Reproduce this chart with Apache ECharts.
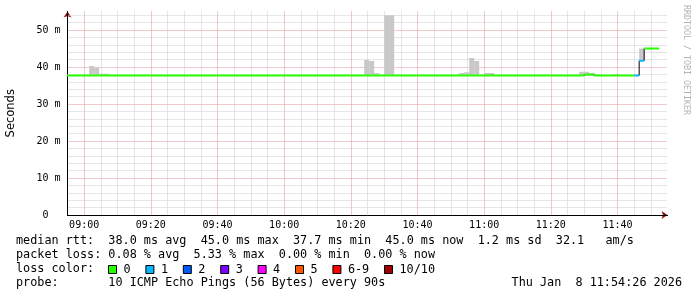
<!DOCTYPE html>
<html><head><meta charset="utf-8">
<script src="https://cdn.jsdelivr.net/npm/echarts@6/dist/echarts.min.js"></script>
<style>html,body{margin:0;padding:0;background:#fff}#c{width:697px;height:297px}</style>
</head><body><div id="c"></div>
<script>
// x values are minutes relative to 09:00 (one RRD step = 90 s = 1.5 min)
const xTickLabels = ['09:00','09:20','09:40','10:00','10:20','10:40','11:00','11:20','11:40'];
const yTickLabels = ['0  ','10 m','20 m','30 m','40 m','50 m'];
const lossLabels = ['0','1','2','3','4','5','6-9','10/10'];

// median rtt (ms) per run of steps, with packet-loss class index
const medStart = [-6, 150, 153, 165, 166.5, 168];
const medEnd   = [150, 153, 165, 166.5, 168, 172.5];
const medValue = [37.7, 38.0, 37.7, 37.7, 41.7, 45.0];
const medLoss  = [0, 0, 0, 1, 1, 0];

// smoke (ping spread min..max, ms)
const smokeStart = [1.5, 3.0, 4.5, 84, 85.5, 87, 90, 112.5, 114, 115.5, 117, 120, 148.5, 151.5, 153, 159, 166.5];
const smokeEnd   = [3.0, 4.5, 7.5, 85.5, 87, 88.5, 93, 114, 115.5, 117, 118.5, 123, 151.5, 153, 154.5, 160.5, 168];
const smokeLow   = [37.6, 37.6, 37.6, 37.6, 37.6, 37.6, 37.6, 37.6, 37.6, 37.6, 37.6, 37.6, 37.6, 37.6, 37.6, 37.6, 41.7];
const smokeHigh  = [40.3, 39.8, 38.2, 41.9, 41.6, 38.4, 54.0, 38.4, 38.6, 42.4, 41.6, 38.4, 38.7, 38.4, 38.1, 38.1, 45.0];

const statLines = [
  'median rtt:  38.0 ms avg  45.0 ms max  37.7 ms min  45.0 ms now  1.2 ms sd  32.1   am/s',
  'packet loss: 0.08 % avg  5.33 % max  0.00 % min  0.00 % now',
  'loss color:',
  'probe:       10 ICMP Echo Pings (56 Bytes) every 90s'
];
const dateText = 'Thu Jan  8 11:54:26 2026';
const sideText = 'RRDTOOL / TOBI OETIKER';

const lossColors = ['#26ff00','#00b8ff','#0059ff','#7e00ff','#ff00ff','#ff5500','#ff0000','#a00000'];
const MINOR = '#cccccc', MAJOR = '#e29696';
const MONO = '"DejaVu Sans Mono", monospace';

const smokeData = smokeStart.map((s, i) => [s, smokeEnd[i], smokeLow[i], smokeHigh[i]]);
const medData = medStart.map((s, i) => [s, medEnd[i], medValue[i], medLoss[i], i > 0 ? medValue[i - 1] : medValue[i]]);

const lossSeries = lossLabels.map((name, li) => ({
  name, type: 'custom', z: 4, clip: true,
  itemStyle: { color: lossColors[li] },
  encode: { x: [0, 1], y: 2 },
  data: medData.filter(d => d[3] === li),
  renderItem: (params, api) => {
    const v = api.value(2);
    const p1 = api.coord([api.value(0), v]), p2 = api.coord([api.value(1), v]);
    return { type: 'line', shape: { x1: p1[0], y1: p1[1], x2: p2[0], y2: p2[1] },
      style: { stroke: lossColors[li], lineWidth: 2 } };
  }
}));

const chart = echarts.init(document.getElementById('c'));
chart.setOption({
  animation: false,
  backgroundColor: '#fff',
  grid: { left: 67.5, top: 11.5, width: 600, height: 203.5, outerBoundsMode: 'none', containLabel: false },
  xAxis: [{
    type: 'value', min: -5, max: 175, interval: 5, z: 1,
    axisLine: { show: true, onZero: false, lineStyle: { color: '#000', width: 1 } },
    axisTick: { show: false },
    axisLabel: { interval: 0, margin: 5, fontFamily: MONO, fontSize: 10, color: '#000',
      formatter: v => (v >= 0 && v % 20 === 0 && xTickLabels[v / 20]) ? xTickLabels[v / 20] : '' },
    splitLine: { show: true, showMaxLine: false, lineStyle: { color: [MINOR, MAJOR, MINOR, MINOR], type: [1, 1], width: 1 } }
  }, {
    type: 'value', min: -5, max: 175, position: 'bottom', z: 0,
    axisLine: { show: true, onZero: false, symbol: ['none', 'arrow'], symbolSize: [6, 6], lineStyle: { color: '#8b1010', width: 1 } },
    axisTick: { show: false }, axisLabel: { show: false }, splitLine: { show: false }
  }],
  yAxis: [{
    type: 'value', min: 0, max: 55, interval: 2, z: 1,
    name: 'Seconds', nameLocation: 'middle', nameGap: 50,
    nameTextStyle: { fontFamily: '"DejaVu Sans"', fontSize: 11.5, color: '#000' },
    axisLine: { show: true, onZero: false, lineStyle: { color: '#000', width: 1 } },
    axisTick: { show: false },
    axisLabel: { interval: 0, margin: 7, fontFamily: MONO, fontSize: 10, color: '#000',
      formatter: v => (v % 10 === 0 && yTickLabels[v / 10]) ? yTickLabels[v / 10] : '' },
    splitLine: { show: true, showMaxLine: false, lineStyle: { color: [MAJOR, MINOR, MINOR, MINOR, MINOR], type: [1, 1], width: 1 } }
  }, {
    type: 'value', min: 0, max: 55, position: 'left', z: 0,
    axisLine: { show: true, onZero: false, symbol: ['none', 'arrow'], symbolSize: [6, 6], lineStyle: { color: '#8b1010', width: 1 } },
    axisTick: { show: false }, axisLabel: { show: false }, splitLine: { show: false }
  }],
  legend: {
    data: lossLabels, left: 108, top: 263.5, padding: 0, itemGap: 14.8,
    itemWidth: 8, itemHeight: 8, icon: 'rect', selectedMode: false,
    itemStyle: { borderColor: '#000', borderWidth: 1 },
    textStyle: { fontFamily: MONO, fontSize: 11.8, color: '#000', padding: [0, 0, 0, 2] }
  },
  graphic: [
    ...statLines.map((t, i) => ({ type: 'text', x: 16, y: 241 + i * 14.1,
      style: { text: t, font: '11.8px ' + MONO, fill: '#000', verticalAlign: 'middle' } })),
    { type: 'text', x: 682, y: 283.3, style: { text: dateText, font: '11.8px ' + MONO, fill: '#000', align: 'right', verticalAlign: 'middle' } },
    { type: 'text', x: 686, y: 60, rotation: -Math.PI / 2,
      style: { text: sideText, font: '8.3px ' + MONO, fill: '#b4b4b4', align: 'center', verticalAlign: 'middle' } }
  ],
  series: [
    { type: 'custom', name: 'smoke', z: 2, clip: true, data: smokeData, encode: { x: [0, 1], y: [2, 3] },
      renderItem: (params, api) => {
        const p1 = api.coord([api.value(0), api.value(3)]);
        const p2 = api.coord([api.value(1), api.value(2)]);
        return { type: 'rect', shape: { x: p1[0], y: p1[1], width: p2[0] - p1[0], height: p2[1] - p1[1] },
          style: { fill: '#c8c8c8' } };
      } },
    { type: 'custom', name: 'median-step', z: 3, clip: true, data: medData, encode: { x: [0, 1], y: [2, 4] },
      renderItem: (params, api) => {
        const p1 = api.coord([api.value(0), api.value(4)]);
        const p2 = api.coord([api.value(0), api.value(2)]);
        return { type: 'line', shape: { x1: p1[0], y1: p1[1], x2: p2[0], y2: p2[1] },
          style: { stroke: '#000', lineWidth: 1 } };
      } },
    ...lossSeries
  ]
});
</script></body></html>
